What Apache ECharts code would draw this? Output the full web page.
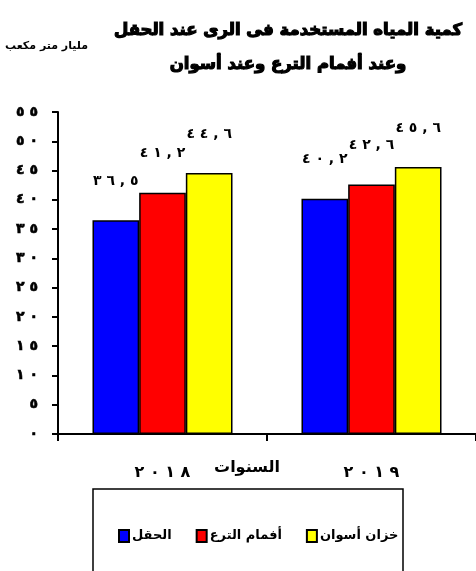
<!DOCTYPE html>
<html><head><meta charset="utf-8">
<script src="https://cdn.jsdelivr.net/npm/echarts@6/dist/echarts.min.js"></script>
<style>html,body{margin:0;padding:0;background:#fff}#c{width:476px;height:571px}</style>
</head><body><div id="c"></div>
<script>
const titleText = 'كمية المياه المستخدمة فى الرى عند الحقل\nوعند أفمام الترع وعند أسوان';
const unitText = 'مليار متر مكعب';
const axisName = 'السنوات';
const categories = ['٢٠١٨', '٢٠١٩'];
const seriesNames = ['الحقل', 'أفمام الترع', 'خزان أسوان'];
const fieldValues = [36.5, 40.2];
const canalValues = [41.2, 42.6];
const aswanValues = [44.6, 45.6];
const yTickLabels = ['٠','٥','١٠','١٥','٢٠','٢٥','٣٠','٣٥','٤٠','٤٥','٥٠','٥٥'];
const colors = ['#0000FF', '#FF0000', '#FFFF00'];

const AR = '٠١٢٣٤٥٦٧٨٩';
const LRM = '\u200E';
// spread characters apart while keeping left-to-right digit order
function spaced(s) { return LRM + s.split('').join(LRM + ' ' + LRM) + LRM; }
function toAr(v) {
  return String(v).replace('.', ',').split('').map(c => /[0-9]/.test(c) ? AR[+c] : c).join('');
}
const FONT = '"DejaVu Sans", sans-serif';

const chart = echarts.init(document.getElementById('c'), null, {renderer: 'canvas'});
const mk = (name, data, color) => ({
  name, type: 'bar', data,
  itemStyle: {color, borderColor: '#000', borderWidth: 1.5},
  label: {show: true, position: 'top', distance: 32, color: '#000', fontFamily: FONT,
    fontWeight: 'bold', fontSize: 14, formatter: p => spaced(toAr(p.value))},
  emphasis: {disabled: true},
  barGap: '0%', barCategoryGap: '33%'
});
chart.setOption({
  animation: false,
  backgroundColor: '#fff',
  title: {
    text: titleText, left: 283, top: 9, textAlign: 'center',
    textStyle: {fontFamily: FONT, fontWeight: 'bold', fontSize: 16.5, color: '#000', lineHeight: 34,
      textBorderColor: '#000', textBorderWidth: 1.2}
  },
  grid: {left: 58, right: 0, top: 112, bottom: 137},
  legend: {
    left: 113, top: 524, itemWidth: 10, itemHeight: 12, itemGap: 24, icon: 'rect',
    textStyle: {fontFamily: FONT, fontWeight: 'bold', fontSize: 13, color: '#000', padding: [0, 0, 0, -2]},
    data: seriesNames
  },
  xAxis: {
    type: 'category', data: categories,
    axisLine: {lineStyle: {color: '#000', width: 2}},
    axisTick: {show: true, length: 7, lineStyle: {color: '#000', width: 2}},
    axisLabel: {margin: 31, color: '#000', fontFamily: FONT, fontWeight: 'bold', fontSize: 16,
      formatter: v => spaced(v)}
  },
  yAxis: {
    type: 'value', min: 0, max: 55, interval: 5,
    axisLine: {show: true, lineStyle: {color: '#000', width: 2}},
    axisTick: {show: true, length: 6, lineStyle: {color: '#000', width: 2}},
    splitLine: {show: false},
    axisLabel: {margin: 20, color: '#000', fontFamily: FONT, fontWeight: 'bold', fontSize: 14,
      textBorderColor: '#000', textBorderWidth: 0.6,
      formatter: v => spaced(yTickLabels[Math.round(v / 5)])}
  },
  series: [
    mk(seriesNames[0], fieldValues, colors[0]),
    mk(seriesNames[1], canalValues, colors[1]),
    mk(seriesNames[2], aswanValues, colors[2])
  ],
  graphic: [
    {type: 'text', left: 5, top: 41, style: {text: unitText, font: 'bold 11px ' + FONT, fill: '#000'}},
    {type: 'text', x: 247, y: 468, style: {text: axisName, font: 'bold 16px ' + FONT, fill: '#000', align: 'center', verticalAlign: 'middle'}},
    {type: 'rect', shape: {x: 93, y: 489, width: 310, height: 100}, style: {fill: 'none', stroke: '#000', lineWidth: 1.5}, z: 10}
  ]
});
</script></body></html>
